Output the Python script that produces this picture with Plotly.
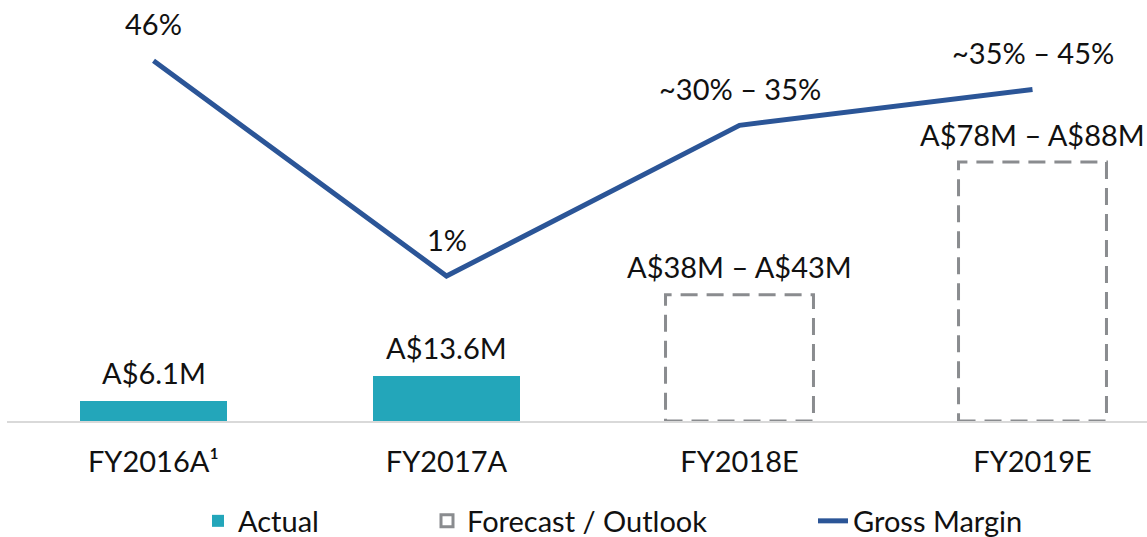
import plotly.graph_objects as go

categories = ["FY2016A¹", "FY2017A", "FY2018E", "FY2019E"]
actual_idx = [0, 1]
actual_values = [6.1, 13.6]
actual_labels = ["A$6.1M", "A$13.6M"]
forecast_idx = [2, 3]
forecast_low = [38, 78]
forecast_labels = ["A$38M – A$43M", "A$78M – A$88M"]
margin_values = [46, 1, 32.5, 40]
margin_labels = ["46%", "1%", "~30% – 35%", "~35% – 45%"]

FONT = "Lato"
FS = 29
TXT = "#111111"
TEAL = "#23A6BA"
NAVY = "#2B5597"
GREY = "#8A8C8F"
BW = 0.505

fig = go.Figure()

fig.add_trace(go.Bar(
    x=actual_idx, y=actual_values, width=BW, marker=dict(color=TEAL, line=dict(width=0)),
    name="Actual", legend="legend", yaxis="y", xaxis="x", showlegend=True,
))

for k, (i, v) in enumerate(zip(forecast_idx, forecast_low)):
    fig.add_shape(type="rect", xref="x", yref="y", x0=i - BW / 2, x1=i + BW / 2, y0=0, y1=v,
                  line=dict(color=GREY, width=3, dash="17px,9px"),
                  fillcolor="rgba(0,0,0,0)", layer="above",
                  name="Forecast / Outlook", legend="legend2", legendgroup="fc",
                  showlegend=(k == 0))

fig.add_trace(go.Scatter(
    x=list(range(len(categories))), y=margin_values, mode="lines",
    line=dict(color=NAVY, width=5), name="Gross Margin", legend="legend3", yaxis="y2",
    showlegend=True,
))

ann = []
for i, v, t in zip(actual_idx, actual_values, actual_labels):
    ann.append(dict(x=i, y=v, xref="x", yref="y", text=t, showarrow=False,
                    yanchor="middle", yshift=28))
for i, v, t in zip(forecast_idx, forecast_low, forecast_labels):
    ann.append(dict(x=i, y=v, xref="x", yref="y", text=t, showarrow=False,
                    yanchor="middle", yshift=28))
for i, (v, t) in enumerate(zip(margin_values, margin_labels)):
    ann.append(dict(x=i, y=v, xref="x", yref="y2", text=t, showarrow=False,
                    yanchor="middle", yshift=37))

legend_common = dict(orientation="h", yanchor="middle", y=-0.2375, xanchor="left",
                     font=dict(family=FONT, size=FS, color=TXT),
                     bgcolor="rgba(0,0,0,0)", itemwidth=30)

PW = 1140
fig.update_layout(
    width=1147, height=537,
    margin=dict(l=7, r=0, t=0, b=116, autoexpand=False),
    paper_bgcolor="white", plot_bgcolor="white",
    font=dict(family=FONT, size=FS, color=TXT),
    showlegend=True,
    annotations=ann,
    bargap=0,
    xaxis=dict(range=[-0.5, -0.5 + PW / 293], tickmode="array",
               tickvals=list(range(len(categories))), ticktext=categories,
               showgrid=False, zeroline=False, showline=True, linecolor="#D9D9D9",
               linewidth=2, ticks="", ticklabelstandoff=14,
               tickfont=dict(family=FONT, size=FS, color=TXT)),
    yaxis=dict(range=[0, 421 / 3.32], visible=False, showgrid=False),
    yaxis2=dict(range=[-29.3, 58.7], visible=False, overlaying="y", showgrid=False),
    legend=dict(legend_common, x=(198 - 7) / PW),
    legend2=dict(legend_common, x=(427 - 7) / PW),
    legend3=dict(legend_common, x=(813 - 7) / PW),
)

fig.write_html("out.html", config={"displayModeBar": False},
               post_script="document.body.style.margin='0px';")
